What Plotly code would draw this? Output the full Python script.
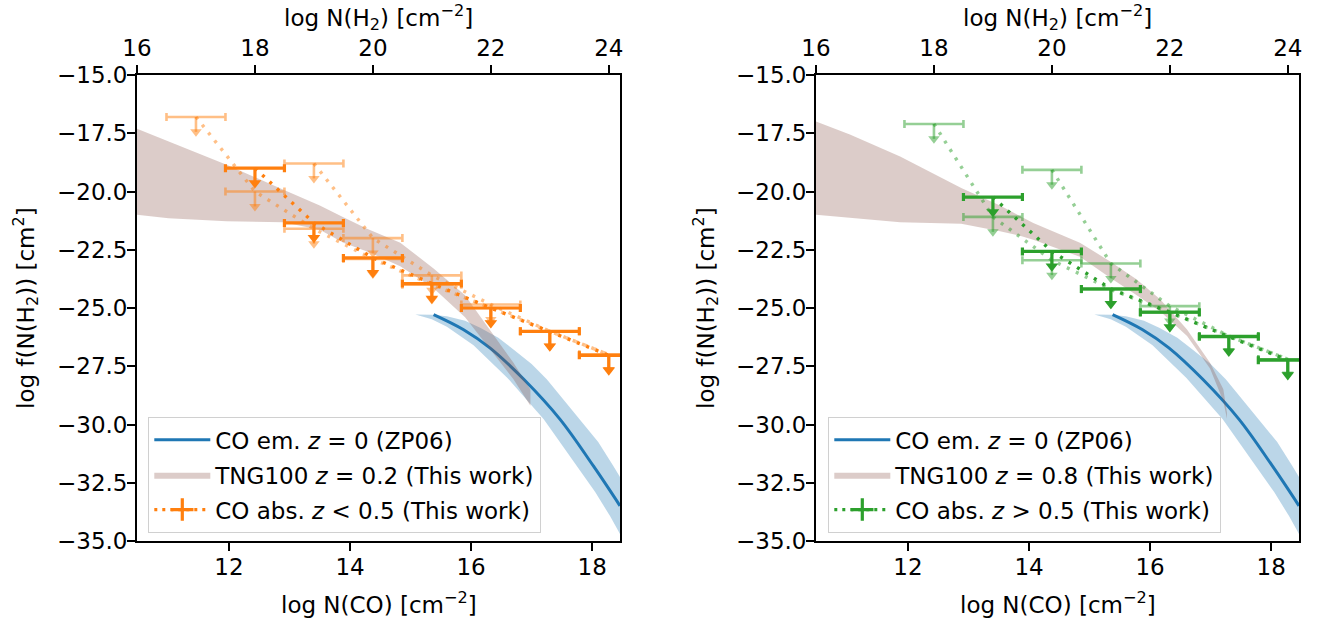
import plotly.graph_objects as go

# ---------------- data ----------------
co_range = [10.48, 18.46]
h2_range = [16.0, 24.19]
co_ticks = [12, 14, 16, 18]
h2_ticks = [16, 18, 20, 22, 24]
y_range = [-35.0, -15.0]

# ZP06 CO emission z=0 (line + uncertainty band), same in both panels
zp06_co = [15.38, 15.87, 16.31, 16.87, 17.47, 18.02, 18.46]
zp06_logf = [-25.28, -25.92, -26.71, -28.06, -29.78, -31.78, -33.49]
zp06_hi_co = [15.08, 15.35, 15.6, 15.9, 16.15, 16.45, 16.7, 17.0, 17.25, 17.5, 17.8, 18.1, 18.35, 18.46]
zp06_hi_logf = [-25.28, -25.29, -25.35, -25.55, -25.85, -26.28, -26.78, -27.4, -28.06, -28.85, -29.78, -30.75, -31.78, -32.25]
zp06_lo_co = [15.08, 15.35, 15.6, 16.04, 16.6, 17.2, 17.75, 18.05, 18.3, 18.46]
zp06_lo_logf = [-25.28, -25.48, -25.8, -26.6, -28.0, -29.78, -31.78, -32.9, -33.95, -34.7]

# TNG100 z=0.2 band (left panel)
tng02_co = [10.48, 11.0, 11.96, 12.9, 13.5, 13.89, 14.28, 14.83, 15.38, 15.9, 16.3, 16.7, 16.98]
tng02_up = [-17.31, -17.85, -18.85, -19.93, -20.6, -21.1, -21.6, -22.2, -23.3, -24.45, -25.9, -27.35, -28.5]
tng02_dn = [-21.0, -21.15, -21.28, -21.32, -21.64, -22.2, -22.57, -23.21, -24.15, -25.4, -26.75, -28.06, -29.2]

# TNG100 z=0.8 band (right panel)
tng08_co = [10.48, 11.04, 11.87, 12.88, 13.52, 13.85, 14.07, 14.84, 15.34, 15.78, 16.17, 16.61, 16.99, 17.21, 17.27]
tng08_up = [-17.0, -17.55, -18.5, -19.85, -20.6, -21.07, -21.35, -22.2, -23.0, -23.78, -24.64, -25.92, -27.35, -28.49, -29.5]
tng08_dn = [-21.0, -21.14, -21.32, -21.38, -21.71, -21.9, -22.07, -22.8, -23.7, -24.45, -25.15, -26.2, -27.6, -29.0, -29.75]

# CO absorption upper limits, z < 0.5 (x in log N(H2), bin half-width 0.5)
abs_low_h2 = [18, 19, 20, 21, 22, 23, 24]
abs_low_logf = [-19.0, -21.35, -22.85, -23.95, -25.0, -26.0, -27.03]
abs_low_alt1_h2 = [17, 18, 19, 20, 21, 22, 23, 24]
abs_low_alt1_logf = [-16.8, -20.0, -21.6, -22.9, -24.0, -25.0, -26.0, -27.0]
abs_low_alt2_h2 = [19, 20, 21, 22, 23, 24]
abs_low_alt2_logf = [-18.8, -22.0, -23.6, -24.85, -26.0, -27.0]

# CO absorption upper limits, z > 0.5
abs_high_h2 = [19, 20, 21, 22, 23, 24]
abs_high_logf = [-20.24, -22.57, -24.18, -25.18, -26.23, -27.24]
abs_high_alt1_h2 = [18, 19, 20, 21, 22, 23, 24]
abs_high_alt1_logf = [-17.1, -21.09, -22.95, -24.2, -25.2, -26.2, -27.2]
abs_high_alt2_h2 = [20, 21, 22, 23, 24]
abs_high_alt2_logf = [-19.07, -23.09, -24.92, -26.2, -27.2]

bin_half = 0.5

# ---------------- styling ----------------
W, H = 1325, 620
FONT = "DejaVu Sans"
FS = 23
BLUE = "#1f77b4"
ORANGE = "#ff7f0e"
GREEN = "#2ca02c"
ARROW = 0.64  # length of the upper-limit arrow in y units


def px(p):
    return p / W


def py(p):
    return 1 - p / H


fig = go.Figure()


def add_panel(xa, xa_top, ya, tng_co, tng_up, tng_dn, color, rgb,
              main, alts, labels, legend):
    # ZP06 band
    fig.add_trace(go.Scatter(
        x=zp06_hi_co + zp06_lo_co[::-1], y=zp06_hi_logf + zp06_lo_logf[::-1],
        fill="toself", fillcolor="rgba(31,119,180,0.3)", line=dict(width=0),
        mode="lines", hoverinfo="skip", showlegend=False,
        xaxis=xa, yaxis=ya, legend=legend))
    # ZP06 line
    fig.add_trace(go.Scatter(
        x=zp06_co, y=zp06_logf, mode="lines", line=dict(color=BLUE, width=3, shape="spline"),
        name=labels[0], xaxis=xa, yaxis=ya, legend=legend, legendgroup=legend + "a"))
    # TNG band
    fig.add_trace(go.Scatter(
        x=tng_co + tng_co[::-1], y=tng_up + tng_dn[::-1],
        fill="toself", fillcolor="rgba(140,86,75,0.3)", line=dict(width=0),
        mode="lines", name=labels[1], xaxis=xa, yaxis=ya, legend=legend,
        legendgroup=legend + "b"))

    def limits(h2, logf, col, lw, head):
        fig.add_trace(go.Scatter(
            x=h2, y=logf, mode="lines",
            line=dict(color=col, width=3.4, dash="3px,7px"),
            error_x=dict(type="constant", value=bin_half, color=col, thickness=lw, width=4),
            error_y=dict(type="data", symmetric=False, array=[0] * len(h2),
                         arrayminus=[ARROW] * len(h2), color=col, thickness=lw, width=0),
            showlegend=False, hoverinfo="skip", xaxis=xa_top, yaxis=ya))
        fig.add_trace(go.Scatter(
            x=h2, y=[v - ARROW for v in logf], mode="markers",
            marker=dict(symbol="triangle-down", size=head, color=col, line=dict(width=0)),
            showlegend=False, hoverinfo="skip", xaxis=xa_top, yaxis=ya))

    light = "rgba(%s,0.5)" % rgb
    for h2, logf in alts:
        limits(h2, logf, light, 2.6, 10)
    limits(main[0], main[1], color, 3.2, 11)

    # legend-only entry for the absorption points
    fig.add_trace(go.Scatter(
        x=[None], y=[None], mode="lines+markers",
        line=dict(color=color, width=3.2, dash="3px,5px"),
        marker=dict(symbol="cross-thin", size=20, line=dict(color=color, width=3.2)),
        name=labels[2], xaxis=xa_top, yaxis=ya, legend=legend, legendgroup=legend + "c"))


add_panel("x", "x2", "y", tng02_co, tng02_up, tng02_dn, ORANGE, "255,127,14",
          (abs_low_h2, abs_low_logf),
          [(abs_low_alt1_h2, abs_low_alt1_logf), (abs_low_alt2_h2, abs_low_alt2_logf)],
          ["CO em. <i>z</i> = 0 (ZP06)", "TNG100 <i>z</i> = 0.2 (This work)",
           "CO abs. <i>z</i> &lt; 0.5 (This work)"], "legend")
add_panel("x3", "x4", "y2", tng08_co, tng08_up, tng08_dn, GREEN, "44,160,44",
          (abs_high_h2, abs_high_logf),
          [(abs_high_alt1_h2, abs_high_alt1_logf), (abs_high_alt2_h2, abs_high_alt2_logf)],
          ["CO em. <i>z</i> = 0 (ZP06)", "TNG100 <i>z</i> = 0.8 (This work)",
           "CO abs. <i>z</i> &gt; 0.5 (This work)"], "legend2")

ydom = [py(541), py(75)]
left_dom = [px(137), px(620)]
right_dom = [px(816), px(1299)]

axis_style = dict(showgrid=False, zeroline=False, showline=True, linecolor="black",
                  linewidth=1.8, ticks="outside", ticklen=8, tickwidth=1.8, tickcolor="black",
                  automargin=False,
                  tickfont=dict(family=FONT, size=FS, color="black"))

legend_style = dict(y=py(417), xanchor="left", yanchor="top",
                    bgcolor="rgba(255,255,255,0.8)", bordercolor="#d0d0d0", borderwidth=1.3,
                    font=dict(family=FONT, size=FS), itemwidth=56, traceorder="grouped",
                    tracegroupgap=2)

fig.update_layout(
    width=W, height=H, margin=dict(l=0, r=0, t=0, b=0, pad=0, autoexpand=False),
    paper_bgcolor="white", plot_bgcolor="white",
    font=dict(family=FONT, size=FS, color="black"),
    xaxis=dict(domain=left_dom, range=co_range, tickvals=co_ticks, anchor="y",
               ticklabelstandoff=-4, **axis_style),
    xaxis2=dict(overlaying="x", side="top", range=h2_range, tickvals=h2_ticks, anchor="y", **axis_style),
    yaxis=dict(domain=ydom, range=y_range, dtick=2.5, tick0=-35, tickformat=".1f",
               anchor="x", mirror=True, ticklabelstandoff=-5, **axis_style),
    xaxis3=dict(domain=right_dom, range=co_range, tickvals=co_ticks, anchor="y2",
                ticklabelstandoff=-4, **axis_style),
    xaxis4=dict(overlaying="x3", side="top", range=h2_range, tickvals=h2_ticks, anchor="y2", **axis_style),
    yaxis2=dict(domain=ydom, range=y_range, dtick=2.5, tick0=-35, tickformat=".1f",
                anchor="x3", mirror=True, ticklabelstandoff=-5, **axis_style),
    legend=dict(x=px(148), **legend_style),
    legend2=dict(x=px(828), **legend_style),
)

titles = []
for cx, ycx in [((137 + 620) / 2, 25), ((816 + 1299) / 2, 705)]:
    titles.append(dict(x=px(cx), y=py(603), text="log N(CO) [cm<sup>−2</sup>]"))
    titles.append(dict(x=px(cx), y=py(17), text="log N(H<sub>2</sub>) [cm<sup>−2</sup>]"))
    titles.append(dict(x=px(ycx), y=py(308), text="log f(N(H<sub>2</sub>)) [cm<sup>2</sup>]",
                       textangle=-90))
for t in titles:
    fig.add_annotation(xref="paper", yref="paper", showarrow=False, xanchor="center",
                       yanchor="middle", font=dict(family=FONT, size=FS, color="black"), **t)

fig.write_html("out.html", config={"displayModeBar": False},
               post_script="document.body.style.margin='0';document.body.style.overflow='hidden';")
